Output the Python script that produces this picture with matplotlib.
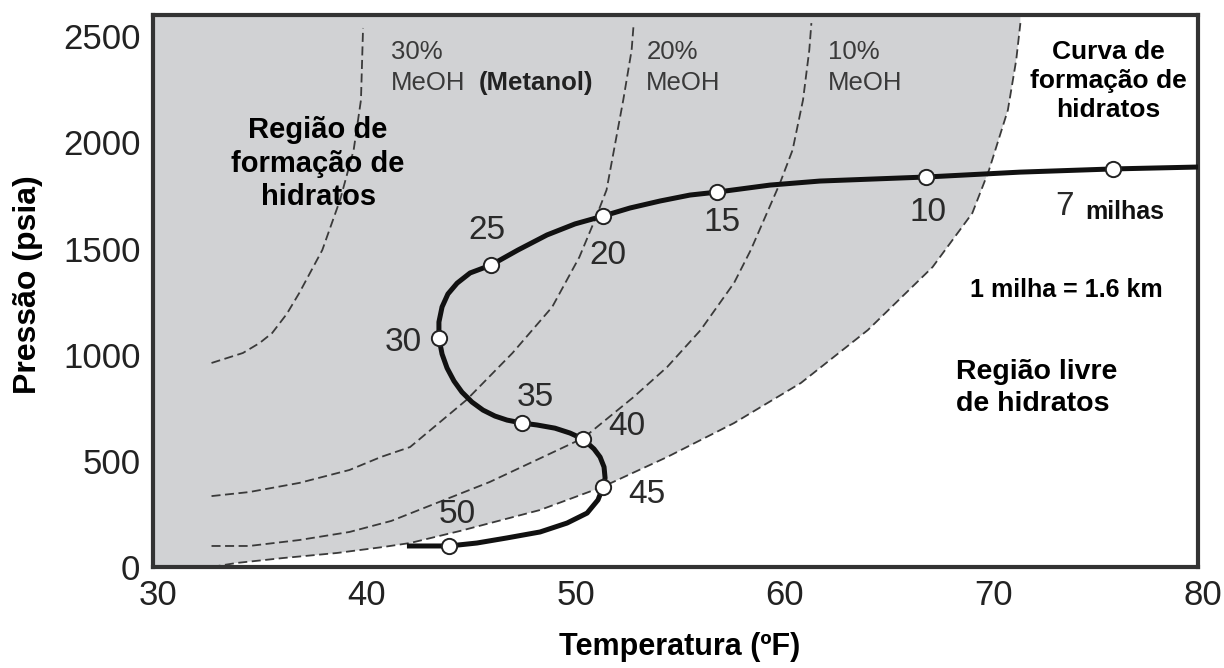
import matplotlib.pyplot as plt
import matplotlib.transforms as mtransforms

plt.rcParams['font.family'] = ['Liberation Sans', 'DejaVu Sans']

# curva de formacao de hidratos (0% MeOH), limite da regiao cinza
hyd_T = [32.8, 34.0, 36.2, 38.8, 41.0, 42.3, 44.7, 48.5, 51.5, 54.6, 57.8, 61.0,
         64.2, 67.3, 69.2, 70.0, 70.9, 71.3, 71.5]
hyd_P = [0, 19, 42, 66, 94, 113, 170, 268, 377, 518, 678, 867,
         1116, 1413, 1667, 1870, 2152, 2388, 2562]

# curvas com metanol
meoh10_T = [32.8, 34.6, 37.0, 39.4, 41.4, 46.1, 50.6, 53.0, 54.6, 56.2, 57.8,
            58.6, 60.0, 60.6, 61.1, 61.4, 61.5]
meoh10_P = [99, 99, 127, 165, 217, 400, 608, 801, 942, 1116, 1338,
            1493, 1809, 1964, 2200, 2435, 2562]

meoh20_T = [32.8, 34.6, 37.0, 39.4, 40.9, 42.3, 45.0, 47.2, 49.1, 50.4, 51.2,
            51.7, 52.5, 52.9, 53.0]
meoh20_P = [334, 353, 396, 457, 518, 565, 787, 1008, 1225, 1460, 1649,
            1776, 2200, 2435, 2562]

meoh30_T = [32.8, 34.3, 35.1, 35.7, 36.4, 37.0, 38.1, 38.95, 39.6, 39.95, 40.05]
meoh30_P = [961, 1008, 1055, 1102, 1192, 1291, 1493, 1729, 1964, 2200, 2539]

# perfil T x P ao longo do duto
pipe_T = [42.15, 44.16, 45.50, 46.94, 48.52, 49.81, 50.77, 51.29, 51.53, 51.63,
          51.58, 51.39, 51.10, 50.57, 49.95, 49.23, 48.37, 47.66, 46.94, 46.36,
          45.79, 45.26, 44.78, 44.40, 44.07, 43.83, 43.68, 43.68, 43.83, 44.11,
          44.55, 45.17, 46.17, 47.46, 48.85, 50.19, 51.53, 52.82, 54.26, 55.69,
          56.99, 59.52, 61.91, 64.31, 66.99, 71.48, 75.93, 80.0]
pipe_P = [99, 99, 113, 137, 165, 207, 254, 316, 377, 419,
          471, 518, 556, 603, 631, 654, 669, 678, 692, 711,
          739, 777, 824, 876, 937, 1003, 1079, 1154, 1225, 1286,
          1337, 1385, 1422, 1493, 1564, 1616, 1653, 1691, 1724, 1752,
          1766, 1799, 1818, 1827, 1837, 1860, 1875, 1884]

# marcos em milhas
miles = ['50', '45', '40', '35', '30', '25', '20', '15', '10', '7']
mile_T = [44.16, 51.53, 50.57, 47.66, 43.68, 46.17, 51.53, 56.99, 66.99, 75.93]
mile_P = [99, 377, 603, 678, 1079, 1422, 1653, 1766, 1837, 1875]
label_off = [(8, 31), (44, -8), (44, 12), (13, 26), (-36, -5), (-4, 35),
             (5, -39), (5, -30), (2, -35), (-48, -38)]

x_ticks = [30, 40, 50, 60, 70, 80]
y_ticks = [0, 500, 1000, 1500, 2000, 2500]
Y_TOP = 2600

fig = plt.figure(figsize=(12.24, 6.68), dpi=100)
ax = fig.add_axes([0.125, 0.1512, 0.8538, 0.8263])
ax.set_xlim(30, 80)
ax.set_ylim(0, Y_TOP)

# regiao de formacao (cinza)
fill_T = [30] + hyd_T + [hyd_T[-1], 30]
fill_P = [0] + hyd_P + [Y_TOP, Y_TOP]
ax.fill(fill_T, fill_P, color='#d1d2d4', lw=0, zorder=0)

dash_kw = dict(color='#3a3a3a', lw=1.3, dashes=(5, 2.5), zorder=2)
for T, P in [(hyd_T, hyd_P), (meoh10_T, meoh10_P), (meoh20_T, meoh20_P), (meoh30_T, meoh30_P)]:
    ax.plot(T, P, **dash_kw)

ax.plot(pipe_T, pipe_P, color='#111111', lw=3.6, solid_joinstyle='round',
        solid_capstyle='butt', zorder=3)
ax.plot(mile_T, mile_P, 'o', ms=11, mfc='white', mec='#222222', mew=1.4, zorder=4)

for lab, t, p, off in zip(miles, mile_T, mile_P, label_off):
    ax.annotate(lab, (t, p), xytext=off, textcoords='offset pixels',
                ha='center', va='center', fontsize=24, color='#2a2a2a')
ax.annotate('milhas', (mile_T[-1], mile_P[-1]), xytext=(-28, -43),
            textcoords='offset pixels', ha='left', va='center',
            fontsize=18, fontweight='bold', color='#111111')

# textos
ax.text(37.9, 1900, 'Região de\nformação de\nhidratos', ha='center', va='center',
        fontsize=21, fontweight='bold', linespacing=1.25)
ax.text(41.4, 2426, '30%', ha='left', va='center', fontsize=18.5, color='#3a3a3a')
ax.text(41.4, 2280, 'MeOH', ha='left', va='center', fontsize=18.5, color='#3a3a3a')
ax.text(45.6, 2280, '(Metanol)', ha='left', va='center', fontsize=18.5,
        fontweight='bold', color='#222222')
ax.text(53.6, 2426, '20%', ha='left', va='center', fontsize=18.5, color='#3a3a3a')
ax.text(53.6, 2280, 'MeOH', ha='left', va='center', fontsize=18.5, color='#3a3a3a')
ax.text(62.3, 2426, '10%', ha='left', va='center', fontsize=18.5, color='#3a3a3a')
ax.text(62.3, 2280, 'MeOH', ha='left', va='center', fontsize=18.5, color='#3a3a3a')
ax.text(75.7, 2289, 'Curva de\nformação de\nhidratos', ha='center', va='center',
        fontsize=19, fontweight='bold', linespacing=1.25)
ax.text(73.7, 1305, '1 milha = 1.6 km', ha='center', va='center',
        fontsize=18, fontweight='bold')
ax.text(68.4, 843, 'Região livre\nde hidratos', ha='left', va='center',
        fontsize=20.5, fontweight='bold', linespacing=1.3)

ax.set_xticks(x_ticks)
ax.set_yticks(y_ticks)
ax.tick_params(length=0, labelsize=25, labelcolor='#222222')
ax.tick_params(axis='x', pad=9)
ax.tick_params(axis='y', pad=9)
shift = mtransforms.ScaledTranslation(5 / 100, 0, fig.dpi_scale_trans)
for lbl in ax.get_xticklabels():
    lbl.set_transform(lbl.get_transform() + shift)
for s in ax.spines.values():
    s.set_linewidth(3)
    s.set_color('#333333')

fig.text(680 / 1224, 1 - 647 / 668, 'Temperatura (ºF)', ha='center', va='center',
         fontsize=22, fontweight='bold')
fig.text(28 / 1224, 1 - 285 / 668, 'Pressão (psia)', ha='center', va='center',
         rotation=90, fontsize=23, fontweight='bold')

fig.savefig('out.png', dpi=100)
